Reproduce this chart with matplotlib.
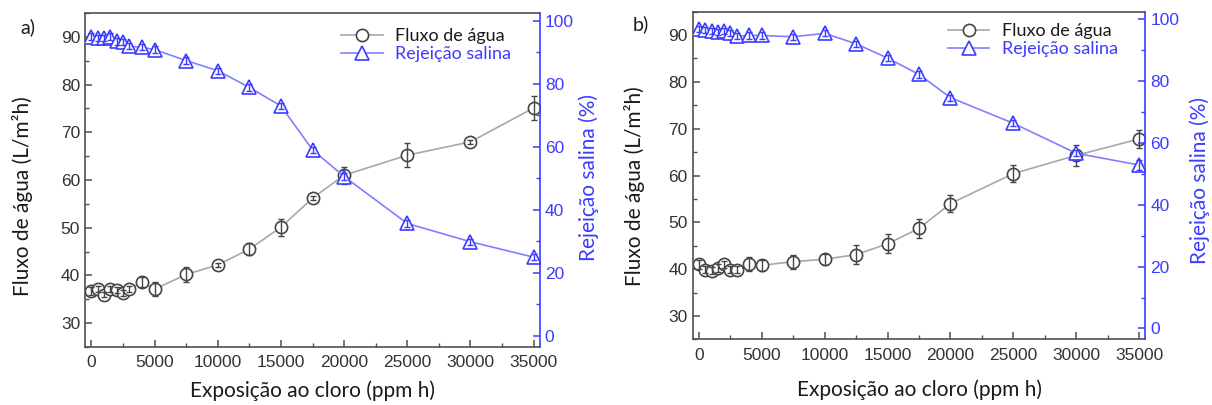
import matplotlib
matplotlib.use("Agg")
import matplotlib.pyplot as plt
from matplotlib.lines import Line2D
from matplotlib.ticker import MultipleLocator

# ------------------------------
# dados
# ------------------------------
exposicao = [0, 500, 1000, 1500, 2000, 2500, 3000, 4000, 5000,
             7500, 10000, 12500, 15000, 17500, 20000, 25000, 30000, 35000]

# painel a)
fluxo_a = [36.8, 37.1, 36.0, 37.1, 37.0, 36.3, 37.1, 38.6, 37.1,
           40.2, 42.2, 45.5, 50.1, 56.2, 61.0, 65.2, 68.0, 75.1]
fluxo_a_err = [0.8, 0.6, 0.6, 0.6, 0.6, 0.6, 0.6, 1.0, 1.5,
               1.5, 0.4, 1.2, 1.8, 0.4, 1.8, 2.5, 0.4, 2.5]
rejeicao_a = [95.0, 94.5, 94.5, 95.0, 93.5, 93.2, 92.0, 91.6, 90.9,
              87.4, 84.2, 78.9, 73.0, 59.1, 50.6, 35.7, 29.9, 25.0]
rejeicao_a_err = [1.0] * 18

# painel b)
fluxo_b = [41.0, 39.9, 39.7, 40.2, 41.0, 39.9, 39.9, 41.0, 40.8,
           41.6, 42.1, 43.1, 45.4, 48.7, 54.0, 60.4, 64.3, 67.8]
fluxo_b_err = [1.0, 0.8, 0.8, 0.8, 0.8, 0.8, 0.8, 1.5, 1.2,
               1.5, 1.2, 2.0, 2.0, 2.0, 1.8, 1.8, 2.2, 2.0]
rejeicao_b = [97.0, 96.6, 96.2, 95.9, 96.2, 95.7, 94.6, 94.8, 94.8,
              94.4, 95.5, 92.1, 87.5, 82.2, 74.7, 66.4, 56.7, 52.9]
rejeicao_b_err = [1.0] * 17 + [1.5]

paineis = ["a)", "b)"]
rotulo_x = "Exposição ao cloro (ppm h)"
rotulo_y1 = "Fluxo de água (L/m²h)"
rotulo_y2 = "Rejeição salina (%)"
legenda = ["Fluxo de água", "Rejeição salina"]

cinza_linha = "#a8a8a8"
cinza_marc = "#454545"
azul = "#3c3cff"
azul_linha = "#8080ff"
texto_cinza = "#333333"
fonte_rot = ["Lato", "DejaVu Sans"]
fonte_tick = ["Liberation Sans", "DejaVu Sans"]

fig = plt.figure(figsize=(12.12, 4.05), dpi=100)

# posicao de cada painel (fig coords) e das etiquetas
layout = [
    dict(rect=[85 / 1212, 58 / 405, 455 / 1212, 334 / 405],
         ylab=(-0.114, 0.452), y2lab=(1.084, 0.506), xlab=(0.499, -0.100),
         leg=(0.563, 0.955), tag=(20 / 1212, 1 - 27 / 405)),
    dict(rect=[692.7 / 1212, 65.7 / 405, 452.6 / 1212, 327.6 / 405],
         ylab=(-0.105, 0.468), y2lab=(1.097, 0.486), xlab=(0.5, -0.122),
         leg=(0.564, 0.965), tag=(633 / 1212, 1 - 24 / 405)),
]

dados = [
    (fluxo_a, fluxo_a_err, rejeicao_a, rejeicao_a_err),
    (fluxo_b, fluxo_b_err, rejeicao_b, rejeicao_b_err),
]

for i, (fl, fl_err, rj, rj_err) in enumerate(dados):
    L = layout[i]
    ax = fig.add_axes(L["rect"])
    ax2 = ax.twinx()

    # --- fluxo (eixo esquerdo) ---
    ax.plot(exposicao, fl, color=cinza_linha, lw=1.2, zorder=1)
    ax.plot(exposicao, fl, ls="none", marker="o", ms=8.8, mfc="white",
            mec=cinza_marc, mew=1.2, zorder=2)
    ax.errorbar(exposicao, fl, yerr=fl_err, fmt="none", ecolor=cinza_marc,
                elinewidth=1.0, capsize=2.5, capthick=1.0, zorder=3)

    # --- rejeicao (eixo direito) ---
    ax2.plot(exposicao, rj, color=azul_linha, lw=1.2, zorder=1)
    ax2.plot(exposicao, rj, ls="none", marker="^", ms=10, mfc="white",
             mec=azul, mew=1.2, zorder=2)
    ax2.errorbar(exposicao, rj, yerr=rj_err, fmt="none", ecolor=azul,
                 elinewidth=1.0, capsize=2.5, capthick=1.0, zorder=3)

    ax.set_xlim(-500, 35500)
    ax.set_ylim(25, 95)
    ax2.set_ylim(-3.5, 102.5)

    ax.xaxis.set_major_locator(MultipleLocator(5000))
    ax.xaxis.set_minor_locator(MultipleLocator(2500))
    ax.yaxis.set_major_locator(MultipleLocator(10))
    ax.yaxis.set_minor_locator(MultipleLocator(5))
    ax2.yaxis.set_major_locator(MultipleLocator(20))
    ax2.yaxis.set_minor_locator(MultipleLocator(10))

    for s in ["left", "bottom", "top"]:
        ax.spines[s].set_color("#505050")
        ax.spines[s].set_linewidth(1.2)
    ax.spines["right"].set_visible(False)
    for s in ["left", "bottom", "top"]:
        ax2.spines[s].set_visible(False)
    ax2.spines["right"].set_color(azul)
    ax2.spines["right"].set_linewidth(1.2)

    ax.tick_params(axis="both", which="major", direction="in", length=5,
                   width=1.1, color="#505050", labelsize=12.5,
                   labelcolor=texto_cinza, top=False, right=False)
    ax.tick_params(axis="both", which="minor", direction="in", length=3,
                   width=1.0, color="#505050", top=False, right=False)
    ax.tick_params(axis="x", pad=6)
    ax2.tick_params(axis="y", which="major", direction="in", length=5,
                    width=1.1, color=azul, labelsize=12.5, labelcolor=azul)
    ax2.tick_params(axis="y", which="minor", direction="in", length=3,
                    width=1.0, color=azul)
    for lab in ax.get_xticklabels() + ax.get_yticklabels() + ax2.get_yticklabels():
        lab.set_family(fonte_tick)

    ax.set_xlabel(rotulo_x, fontsize=15, family=fonte_rot, color="#1a1a1a")
    ax.set_ylabel(rotulo_y1, fontsize=15, family=fonte_rot, color="#1a1a1a")
    ax2.set_ylabel(rotulo_y2, fontsize=15, family=fonte_rot, color=azul)
    ax.xaxis.set_label_coords(*L["xlab"])
    ax.yaxis.set_label_coords(*L["ylab"])
    ax2.yaxis.set_label_coords(*L["y2lab"])

    handles = [
        Line2D([], [], color=cinza_linha, lw=1.2, marker="o", ms=8.8,
               mfc="white", mec=cinza_marc, mew=1.2),
        Line2D([], [], color=azul_linha, lw=1.2, marker="^", ms=10,
               mfc="white", mec=azul, mew=1.2),
    ]
    leg = ax2.legend(handles, legenda, loc="upper left",
                     bbox_to_anchor=L["leg"], frameon=False, borderpad=0,
                     borderaxespad=0, handlelength=2.3, handletextpad=0.7,
                     labelspacing=0.12, prop={"family": fonte_rot, "size": 13})
    leg.get_texts()[0].set_color("#1a1a1a")
    leg.get_texts()[1].set_color(azul)

    fig.text(L["tag"][0], L["tag"][1], paineis[i], fontsize=14,
             family=fonte_rot, color="#1a1a1a", va="center")

fig.savefig("out.png", dpi=100)
